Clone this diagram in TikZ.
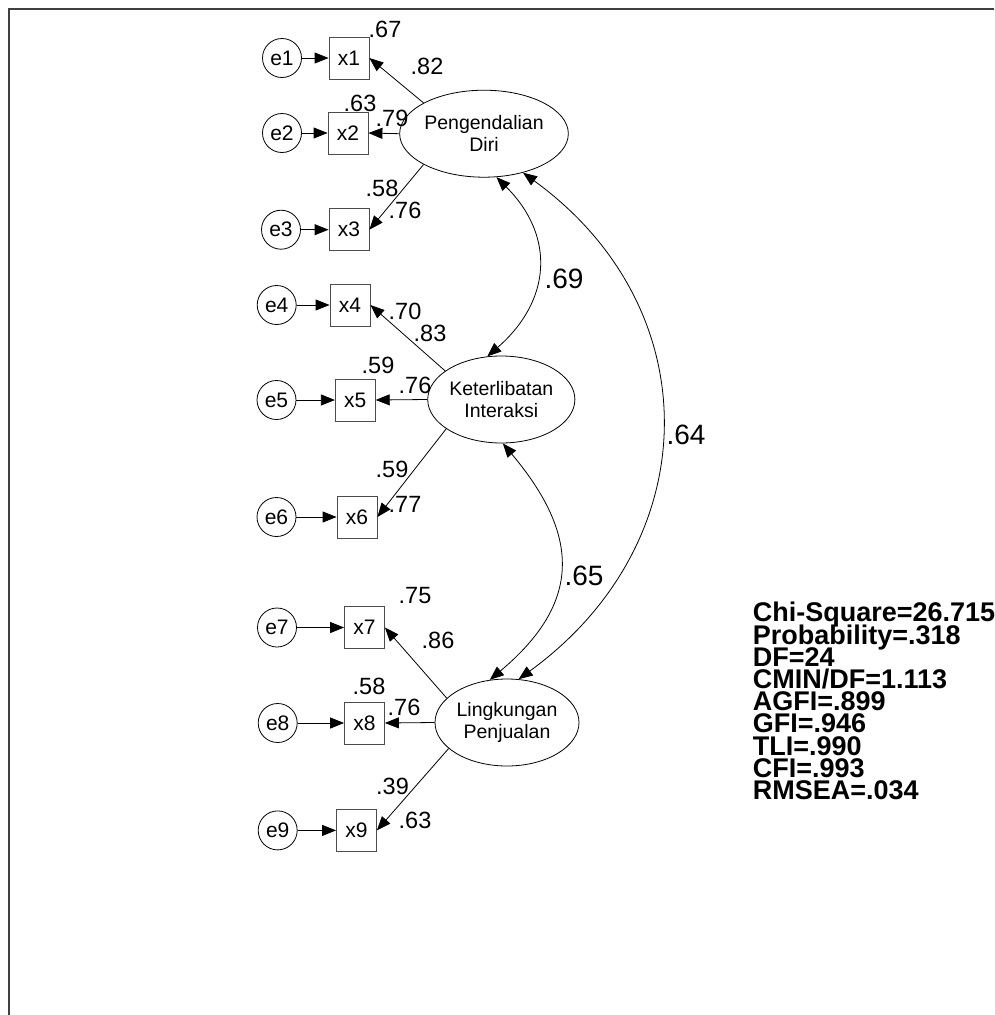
\documentclass[tikz,border=0pt]{standalone}
\usepackage{fontspec}
\setmainfont{Liberation Sans}
\usetikzlibrary{arrows.meta,shapes.geometric}
\newcommand\fitfont{\bfseries\fontsize{27}{22.2}\selectfont\lineskiplimit=-100pt\relax}

\begin{document}
\begin{tikzpicture}[x=1pt,y=1pt,line width=0.8pt,>={Triangle[length=14pt,width=11pt]},
  errnode/.style={draw,circle,minimum size=39pt,inner sep=0pt,font=\fontsize{21}{22}\selectfont},
  obsnode/.style={draw=black!70,rectangle,minimum width=40pt,minimum height=42pt,inner sep=0pt,font=\fontsize{21}{22}\selectfont},
  latnode/.style={draw,ellipse,minimum width=144pt,minimum height=87pt,inner sep=0pt,align=center,font=\fontsize{19.5}{22}\selectfont},
  coef/.style={inner sep=0pt,font=\fontsize{23.5}{23.5}\selectfont},
  corr/.style={inner sep=0pt,font=\fontsize{28}{28}\selectfont}]
  \useasboundingbox (0,0) rectangle (994,-1015);
  \draw[black!75,line width=1.6pt] (9,-1015) -- (9,-9) -- (994,-9);
  % latent variables
  \node[latnode] (P) at (484,-133.7) {Pengendalian\\Diri};
  \node[latnode] (K) at (501.3,-399.5) {Keterlibatan\\Interaksi};
  \node[latnode] (L) at (507,-722.5) {Lingkungan\\Penjualan};
  % indicators and errors
  \node[obsnode] (x1) at (349,-58) {x1};
  \node[obsnode] (x2) at (348,-133) {x2};
  \node[obsnode] (x3) at (349,-229.7) {x3};
  \node[obsnode] (x4) at (350,-305) {x4};
  \node[obsnode] (x5) at (355.3,-400) {x5};
  \node[obsnode] (x6) at (357,-517) {x6};
  \node[obsnode] (x7) at (364.5,-627.5) {x7};
  \node[obsnode] (x8) at (364.5,-723) {x8};
  \node[obsnode] (x9) at (356.5,-830.4) {x9};
  \node[errnode] (e1) at (282,-58) {e1};
  \node[errnode] (e2) at (282,-133) {e2};
  \node[errnode] (e3) at (281,-229.7) {e3};
  \node[errnode] (e4) at (276.7,-305) {e4};
  \node[errnode] (e5) at (276.5,-400) {e5};
  \node[errnode] (e6) at (276.5,-517) {e6};
  \node[errnode] (e7) at (277,-627.5) {e7};
  \node[errnode] (e8) at (277.7,-723) {e8};
  \node[errnode] (e9) at (277.7,-830.4) {e9};
  \draw[->] (e1) -- (x1);
  \draw[->] (e2) -- (x2);
  \draw[->] (e3) -- (x3);
  \draw[->] (e4) -- (x4);
  \draw[->] (e5) -- (x5);
  \draw[->] (e6) -- (x6);
  \draw[->] (e7) -- (x7);
  \draw[->] (e8) -- (x8);
  \draw[->] (e9) -- (x9);
  % loadings
  \draw[->] (P.153) -- (x1.east);
  \draw[->] (P.180) -- (x2.east);
  \draw[->] (P.207) -- (x3.east);
  \draw[->] (K.153) -- (x4.east);
  \draw[->] (K.180) -- (x5.east);
  \draw[->] (K.208) -- (x6.east);
  \draw[->] (L.158) -- (x7.east);
  \draw[->] (L.180) -- (x8.east);
  \draw[->] (L.204) -- (x9.east);
  % covariances
  \draw[<->] (P.-74) to[out=-45,in=41,looseness=1.2] (K.108);
  \draw[<->] (K.-88) to[out=-50,in=40,looseness=1.3] (L.112);
  \draw[<->] (P.-45) to[out=-36,in=36,looseness=1.17] (L.75);
  % estimates
  \node[coef] (r1) at (385,-29) {.67};
  \node[coef] (l1) at (427,-66.5) {.82};
  \node[coef] (r2) at (360,-103) {.63};
  \node[coef] (l2) at (392,-118) {.79};
  \node[coef] (r3) at (382,-188) {.58};
  \node[coef] (l3) at (405,-210) {.76};
  \node[coef] (r4) at (405,-311) {.70};
  \node[coef] (l4) at (430,-333) {.83};
  \node[coef] (r5) at (378,-365) {.59};
  \node[coef] (l5) at (415,-385) {.76};
  \node[coef] (r6) at (392,-469) {.59};
  \node[coef] (l6) at (405,-504) {.77};
  \node[coef] (r7) at (415,-596) {.75};
  \node[coef] (l7) at (438,-640.5) {.86};
  \node[coef] (r8) at (369,-686.5) {.58};
  \node[coef] (l8) at (404,-707) {.76};
  \node[coef] (r9) at (392.5,-786) {.39};
  \node[coef] (l9) at (415,-820.5) {.63};
  \node[corr] (cPK) at (564,-278.5) {.69};
  \node[corr] (cPL) at (686,-435) {.64};
  \node[corr] (cKL) at (584,-575.5) {.65};
  % fit indices
  \node[anchor=north west,inner sep=0pt,align=left,font=\fitfont] (fit) at (752.5,-602)
    {Chi-Square=26.715\\Probability=.318\\DF=24\\CMIN/DF=1.113\\AGFI=.899\\GFI=.946\\TLI=.990\\CFI=.993\\RMSEA=.034};
\end{tikzpicture}
\end{document}
